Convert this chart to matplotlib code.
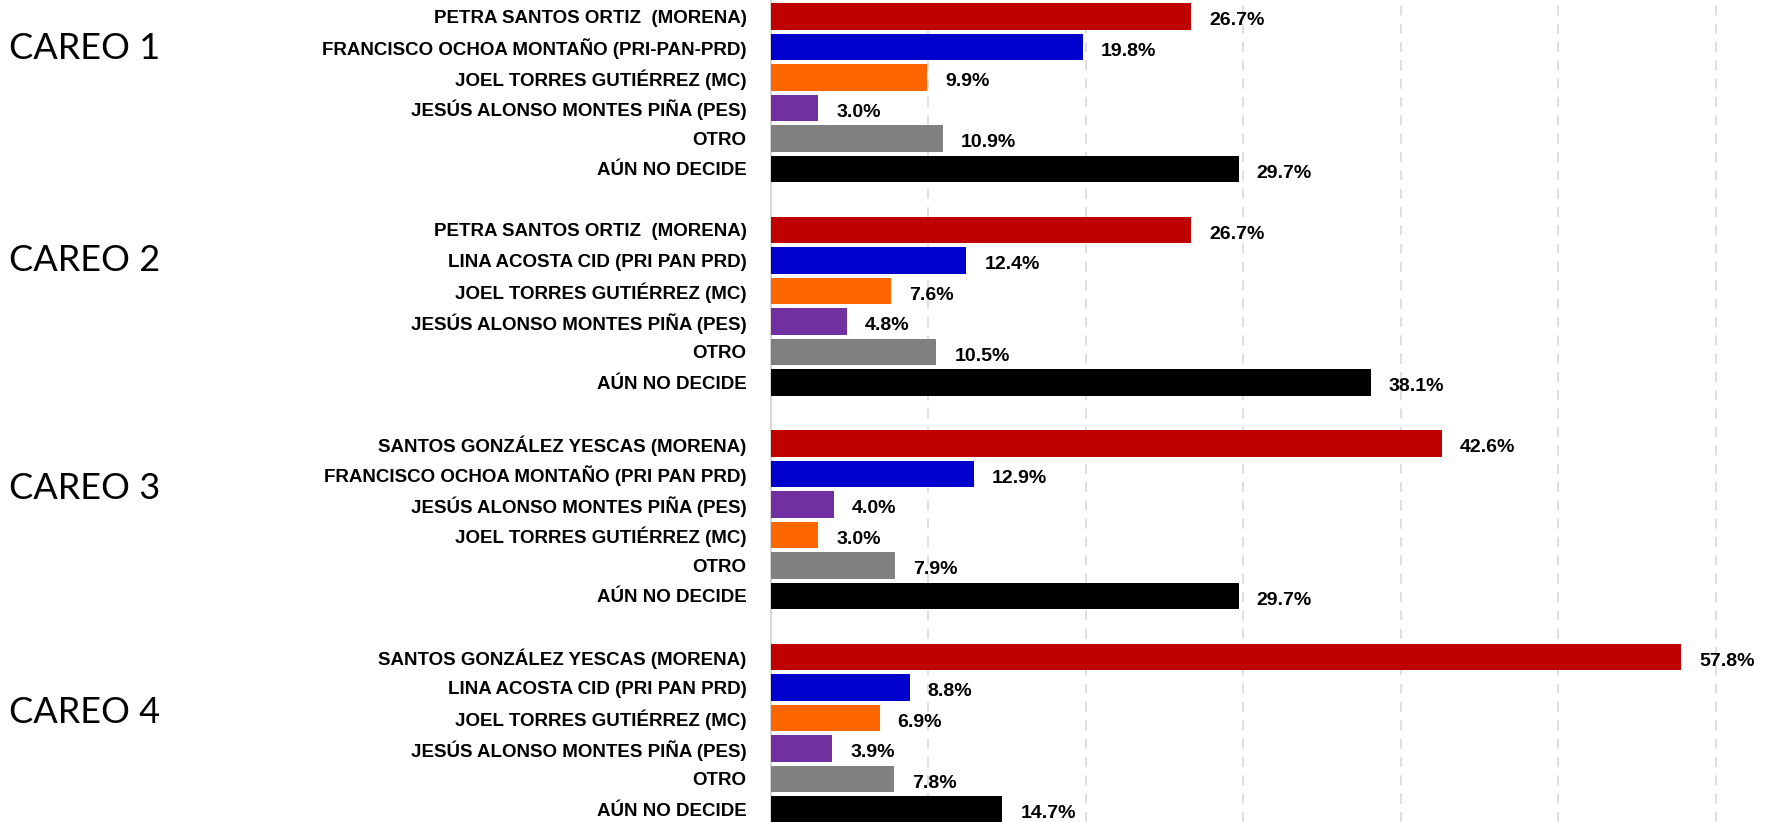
import matplotlib
matplotlib.use("Agg")
import matplotlib.pyplot as plt
import matplotlib.transforms as mtransforms

# Careo labels and rows for each head-to-head scenario
careos = ["CAREO 1", "CAREO 2", "CAREO 3", "CAREO 4"]

labels_1 = ["PETRA SANTOS ORTIZ  (MORENA)", "FRANCISCO OCHOA MONTAÑO (PRI-PAN-PRD)",
            "JOEL TORRES GUTIÉRREZ (MC)", "JESÚS ALONSO MONTES PIÑA (PES)",
            "OTRO", "AÚN NO DECIDE"]
values_1 = [26.7, 19.8, 9.9, 3.0, 10.9, 29.7]
parties_1 = ["MORENA", "PRI", "MC", "PES", "OTRO", "ND"]

labels_2 = ["PETRA SANTOS ORTIZ  (MORENA)", "LINA ACOSTA CID (PRI PAN PRD)",
            "JOEL TORRES GUTIÉRREZ (MC)", "JESÚS ALONSO MONTES PIÑA (PES)",
            "OTRO", "AÚN NO DECIDE"]
values_2 = [26.7, 12.4, 7.6, 4.8, 10.5, 38.1]
parties_2 = ["MORENA", "PRI", "MC", "PES", "OTRO", "ND"]

labels_3 = ["SANTOS GONZÁLEZ YESCAS (MORENA)", "FRANCISCO OCHOA MONTAÑO (PRI PAN PRD)",
            "JESÚS ALONSO MONTES PIÑA (PES)", "JOEL TORRES GUTIÉRREZ (MC)",
            "OTRO", "AÚN NO DECIDE"]
values_3 = [42.6, 12.9, 4.0, 3.0, 7.9, 29.7]
parties_3 = ["MORENA", "PRI", "PES", "MC", "OTRO", "ND"]

labels_4 = ["SANTOS GONZÁLEZ YESCAS (MORENA)", "LINA ACOSTA CID (PRI PAN PRD)",
            "JOEL TORRES GUTIÉRREZ (MC)", "JESÚS ALONSO MONTES PIÑA (PES)",
            "OTRO", "AÚN NO DECIDE"]
values_4 = [57.8, 8.8, 6.9, 3.9, 7.8, 14.7]
parties_4 = ["MORENA", "PRI", "MC", "PES", "OTRO", "ND"]

party_colors = {
    "MORENA": "#C00000",
    "PRI": "#0000CC",
    "MC": "#FF6600",
    "PES": "#7030A0",
    "OTRO": "#808080",
    "ND": "#000000",
}

# layout: where each CAREO title sits relative to its group's first row
careo_offsets = [1.04, 1.0, 1.48, 1.82]


def main():
    plt.rcParams["font.family"] = ["Liberation Sans Narrow", "DejaVu Sans Condensed", "Liberation Sans"]

    fig = plt.figure(figsize=(17.66, 8.22), dpi=100)
    ax = fig.add_axes([771 / 1766, 0, 1 - 771 / 1766, 1])

    groups = [(labels_1, values_1, parties_1), (labels_2, values_2, parties_2),
              (labels_3, values_3, parties_3), (labels_4, values_4, parties_4)]

    rows, vals, cols, names = [], [], [], []
    starts = []
    r = 0
    for labels, values, parties in groups:
        starts.append(r)
        for lab, v, p in zip(labels, values, parties):
            rows.append(r)
            vals.append(v)
            cols.append(party_colors[p])
            names.append(lab)
            r += 1
        r += 1  # blank slot between careos

    ax.barh(rows, vals, height=0.86, color=cols, zorder=3)

    for y, v in zip(rows, vals):
        ax.text(v + 1.15, y + 0.14, f"{v:.1f}%", ha="left", va="center",
                fontsize=14, fontweight="bold", color="black")

    ax.set_yticks(rows)
    ax.set_yticklabels(names, fontsize=13.5, fontweight="bold")
    ax.tick_params(axis="y", length=0, pad=17.5)
    ax.tick_params(axis="x", length=0, labelbottom=False)

    ax.set_xlim(0, 63.2)
    ax.set_ylim(26.41, -0.54)
    ax.set_xticks([10, 20, 30, 40, 50, 60])
    ax.grid(axis="x", color="#D9D9D9", linestyle=(0, (6, 5)), linewidth=1.2, zorder=0)

    for s in ["top", "right", "bottom"]:
        ax.spines[s].set_visible(False)
    ax.spines["left"].set_color("#D0D0D0")
    ax.spines["left"].set_linewidth(1.2)

    trans = mtransforms.blended_transform_factory(fig.transFigure, ax.transData)
    for name, start, off in zip(careos, starts, careo_offsets):
        fig.text(9 / 1766, start + off, name, transform=trans, ha="left", va="center",
                 fontsize=26, family=["Lato", "DejaVu Sans"])

    fig.savefig("out.png", dpi=100)


if __name__ == "__main__":
    main()
